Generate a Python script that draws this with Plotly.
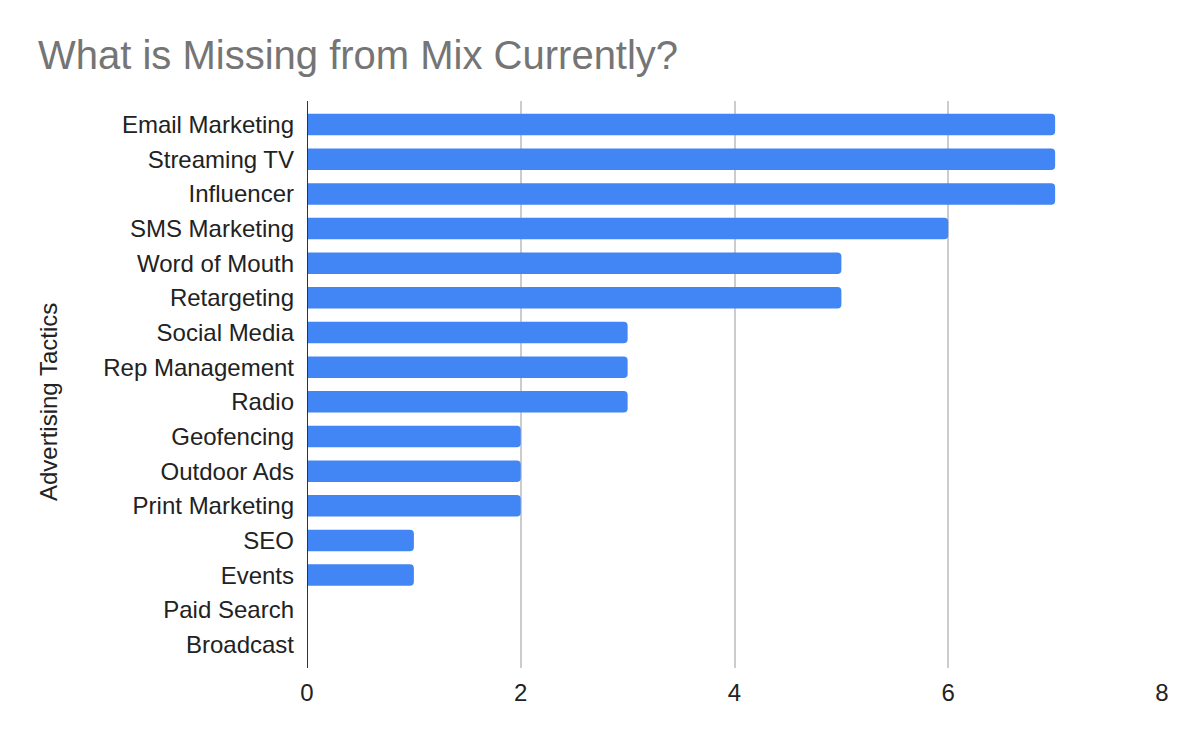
import plotly.graph_objects as go

categories = ["Email Marketing", "Streaming TV", "Influencer", "SMS Marketing",
              "Word of Mouth", "Retargeting", "Social Media", "Rep Management",
              "Radio", "Geofencing", "Outdoor Ads", "Print Marketing", "SEO",
              "Events", "Paid Search", "Broadcast"]
values = [7, 7, 7, 6, 5, 5, 3, 3, 3, 2, 2, 2, 1, 1, 0, 0]
x_ticks = [0, 2, 4, 6, 8]

W, H = 1191, 734
L, R, T, B = 299, 37, 93, 74
FONT = "Liberation Sans"

fig = go.Figure(go.Bar(
    x=values, y=categories, orientation="h",
    marker=dict(color="#4285F4", line=dict(width=0)),
    width=0.62,
))

fig.update_layout(
    width=W, height=H,
    paper_bgcolor="white", plot_bgcolor="white",
    margin=dict(l=L, r=R, t=T, b=B),
    title=dict(text="What is Missing from Mix Currently?", x=30 / W, xanchor="left",
               y=1 - 47 / H, yanchor="middle",
               font=dict(family=FONT, size=40, color="#757575")),
    font=dict(family=FONT, color="#222222"),
    barcornerradius=4,
    showlegend=False,
)
fig.update_xaxes(range=[0, 8], tickvals=x_ticks, showgrid=True, gridcolor="#cccccc",
                 gridwidth=1.5, zeroline=False, showline=False,
                 tickfont=dict(family=FONT, size=24, color="#222222"), ticks="",
                 ticklabelstandoff=8)
fig.update_yaxes(categoryorder="array", categoryarray=categories,
                 range=[15.68, -0.68], showgrid=False, zeroline=False,
                 ticks="", tickfont=dict(family=FONT, size=24, color="#222222"),
                 ticklabelstandoff=12)
pw, ph = W - L - R, H - T - B
fig.add_annotation(text="Advertising Tactics", textangle=-90, showarrow=False,
                   xref="paper", yref="paper",
                   x=(40 - L) / pw, y=(H - B - 394) / ph,
                   xanchor="center", yanchor="middle",
                   font=dict(family=FONT, size=24, color="#222222"))
fig.add_shape(type="line", xref="x", yref="paper", x0=0, x1=0, y0=0, y1=1,
              line=dict(color="#333333", width=2))

fig.write_html("out.html")
